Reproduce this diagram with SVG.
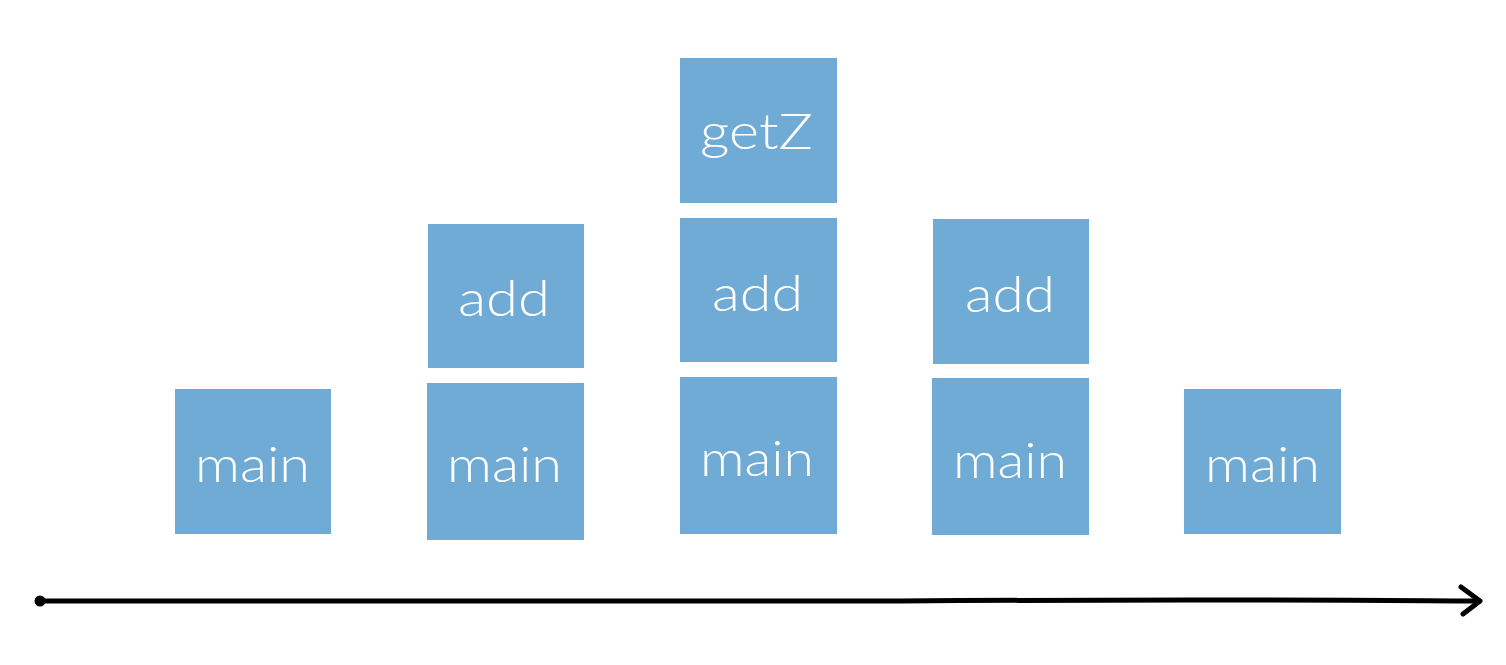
<svg xmlns="http://www.w3.org/2000/svg" width="1506" height="665" viewBox="0 0 1506 665">
<style>
.box{fill:#70abd6;}
.lbl{fill:#ffffff;font-family:Lato,"Open Sans",sans-serif;font-size:50px;font-weight:300;text-anchor:start;}
.axis{fill:none;stroke:#000;stroke-width:5;stroke-linecap:round;stroke-linejoin:round;}
</style>
<rect width="1506" height="665" fill="#ffffff"/>
<g id="main1"><rect class="box" x="175" y="389" width="156" height="145"/><text class="lbl" x="195" y="482" textLength="115" lengthAdjust="spacingAndGlyphs">main</text></g>
<g id="add1"><rect class="box" x="428" y="224" width="156" height="144"/><text class="lbl" x="458" y="316" textLength="92" lengthAdjust="spacingAndGlyphs">add</text></g>
<g id="main2"><rect class="box" x="427" y="383" width="157" height="157"/><text class="lbl" x="447" y="482" textLength="115" lengthAdjust="spacingAndGlyphs">main</text></g>
<g id="getZ"><rect class="box" x="680" y="58" width="157" height="145"/><text class="lbl" x="700" y="149" textLength="113" lengthAdjust="spacingAndGlyphs">getZ</text></g>
<g id="add2"><rect class="box" x="680" y="218" width="157" height="144"/><text class="lbl" x="712" y="311" textLength="91" lengthAdjust="spacingAndGlyphs">add</text></g>
<g id="main3"><rect class="box" x="680" y="377" width="157" height="157"/><text class="lbl" x="700" y="476" textLength="114" lengthAdjust="spacingAndGlyphs">main</text></g>
<g id="add3"><rect class="box" x="933" y="219" width="156" height="145"/><text class="lbl" x="965" y="312" textLength="90" lengthAdjust="spacingAndGlyphs">add</text></g>
<g id="main4"><rect class="box" x="932" y="378" width="157" height="157"/><text class="lbl" x="953" y="478" textLength="114" lengthAdjust="spacingAndGlyphs">main</text></g>
<g id="main5"><rect class="box" x="1184" y="389" width="157" height="145"/><text class="lbl" x="1205" y="482" textLength="115" lengthAdjust="spacingAndGlyphs">main</text></g>
<g id="connectors">
<circle cx="40" cy="601" r="5.5" fill="#000"/>
<path class="axis" d="M40,601 C300,600 600,603 900,601 S1300,600 1478,601"/>
<path class="axis" d="M1461,587 L1480,601 L1463,614"/>
</g>
</svg>
